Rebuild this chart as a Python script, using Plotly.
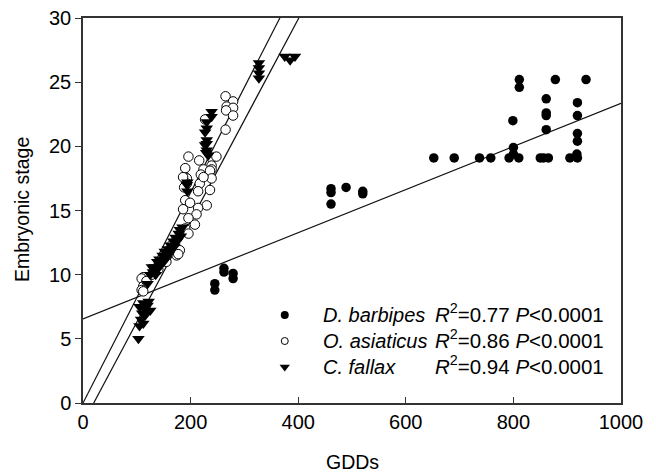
import plotly.graph_objects as go
import numpy as np

# D. barbipes (filled circles)
db_x = [245, 245, 262, 262, 279, 279, 461, 461, 461, 489, 520, 520, 652, 690, 737, 758, 792, 800, 800, 810,
        799, 811, 811, 850, 861, 861, 861, 861, 865, 856, 878, 905, 918, 919, 919, 919, 919, 919, 935]
db_y = [8.8, 9.3, 10.5, 10.2, 10.1, 9.7, 16.7, 16.4, 15.5, 16.8, 16.5, 16.3, 19.1, 19.1, 19.1, 19.1, 19.1, 19.9, 19.4, 19.1,
        22.0, 25.2, 24.6, 19.1, 23.7, 22.6, 22.4, 21.3, 19.1, 19.1, 25.2, 19.1, 19.4, 23.4, 22.4, 21.0, 20.4, 19.1, 25.2]

# O. asiaticus (open circles)
oa_x = [265, 279, 267, 279, 266, 279, 265, 227, 196, 216, 239, 248, 239, 224, 239, 190, 193, 193, 219, 236,
        239, 217, 236, 214, 190, 199, 230, 214, 186, 211, 196, 190, 208, 196, 180, 174, 177, 112, 109, 112,
        109, 112, 165, 155, 128, 140, 118, 190, 188, 224, 186]
oa_y = [23.9, 23.5, 23.1, 23.0, 22.8, 22.4, 21.3, 22.1, 19.2, 18.9, 19.1, 19.2, 18.5, 18.2, 18.2, 17.6, 17.5, 17.1, 17.8, 18.1,
        17.5, 17.1, 16.6, 16.5, 15.8, 15.6, 15.4, 15.2, 15.1, 14.7, 14.4, 13.6, 13.9, 13.2, 11.9, 11.5, 11.6, 9.8, 9.7, 9.1,
        8.8, 8.7, 12.3, 11.0, 10.0, 10.4, 9.5, 18.3, 16.8, 17.6, 17.6]

# C. fallax (filled down-triangles)
cf_x = [103, 105, 108, 112, 110, 105, 115, 115, 118, 120, 122, 125, 112,
        120, 125, 130, 133, 135, 138, 140, 142, 145, 148, 150, 152, 155, 158, 160, 163, 165, 168, 170, 172, 175,
        178, 180, 182, 185, 128, 137,
        194, 194, 193,
        239, 239, 230, 230, 227, 230, 227, 230, 233, 229, 230,
        327, 327, 327, 327,
        375, 385, 394]
cf_y = [5.0, 6.0, 6.5, 6.2, 7.0, 7.5, 7.3, 6.8, 7.0, 7.6, 7.9, 7.2, 7.8,
        9.3, 10.0, 10.2, 10.6, 10.0, 11.0, 10.5, 11.2, 10.8, 11.5, 11.0, 11.8, 11.3, 12.0, 11.6, 12.3, 12.0, 12.6, 12.2, 12.9, 12.6,
        13.2, 13.5, 13.0, 13.7, 10.6, 10.4,
        17.2, 16.5, 17.0,
        22.7, 22.3, 21.9, 21.4, 21.1, 20.5, 20.1, 19.7, 19.3, 19.5, 20.2,
        26.5, 26.1, 25.7, 25.3,
        27.0, 26.7, 27.0]

# regression lines: D. barbipes, O. asiaticus, C. fallax
line_intercepts = [6.55, 0.0, -1.57]
line_slopes = [0.0168, 0.082, 0.0787]

species = ["D. barbipes", "O. asiaticus", "C. fallax"]
r2_labels = ["0.77", "0.86", "0.94"]
p_label = "0.0001"

FONT = "Liberation Sans, Arial, sans-serif"

fig = go.Figure()

# regression lines
xl = np.array([0, 1000])
for a, b in zip(line_intercepts, line_slopes):
    fig.add_trace(go.Scatter(x=xl, y=a + b * xl, mode="lines",
                             line=dict(color="#111111", width=1.2), showlegend=False, hoverinfo="skip"))

fig.add_trace(go.Scatter(x=oa_x, y=oa_y, mode="markers", showlegend=False,
                         marker=dict(symbol="circle", size=9.5, color="white",
                                     line=dict(color="black", width=1))))
fig.add_trace(go.Scatter(x=cf_x, y=cf_y, mode="markers", showlegend=False,
                         marker=dict(symbol="triangle-down", size=11, color="black",
                                     line=dict(color="black", width=0))))
fig.add_trace(go.Scatter(x=db_x, y=db_y, mode="markers", showlegend=False,
                         marker=dict(symbol="circle", size=9.5, color="black",
                                     line=dict(color="black", width=0))))

# custom legend
leg_y = [6.86, 4.83, 2.8]
leg_mx = 375
fig.add_trace(go.Scatter(x=[leg_mx], y=[leg_y[0]], mode="markers", showlegend=False,
                         marker=dict(symbol="circle", size=8, color="black")))
fig.add_trace(go.Scatter(x=[leg_mx], y=[leg_y[1]], mode="markers", showlegend=False,
                         marker=dict(symbol="circle", size=7, color="white", line=dict(color="black", width=1))))
fig.add_trace(go.Scatter(x=[leg_mx], y=[leg_y[2]], mode="markers", showlegend=False,
                         marker=dict(symbol="triangle-down", size=9, color="black")))

for sp, r2, yy in zip(species, r2_labels, leg_y):
    fig.add_annotation(x=442, y=yy, xref="x", yref="y", xanchor="left", yanchor="middle",
                       text="<i>%s</i>" % sp, showarrow=False, font=dict(family=FONT, size=20, color="black"))
    fig.add_annotation(x=650, y=yy + 0.15, xref="x", yref="y", xanchor="left", yanchor="middle",
                       text="<i>R</i><sup>2</sup>=%s <i>P</i>&lt;%s" % (r2, p_label), showarrow=False,
                       font=dict(family=FONT, size=20.5, color="black"))

# axis titles
fig.add_annotation(x=352, y=476 - 462, xref="paper", yref="paper", text="GDDs", showarrow=False,
                   font=dict(family=FONT, size=19.5, color="black"), xanchor="center", yanchor="middle")
fig.add_annotation(x=22, y=476 - 210, xref="paper", yref="paper", text="Embryonic stage", showarrow=False,
                   textangle=-90, font=dict(family=FONT, size=19.5, color="black"), xanchor="center", yanchor="middle")

axis_common = dict(showgrid=False, zeroline=False, showline=True, linecolor="#333333", linewidth=1.5,
                   mirror=True, ticklen=6, tickwidth=1.2, tickcolor="#333333", automargin=False,
                   tickfont=dict(family=FONT, size=20, color="black"))

fig.update_xaxes(range=[0, 1000], tickvals=[0, 200, 400, 600, 800, 1000], ticks="inside", **axis_common)
fig.update_yaxes(range=[0, 30], tickvals=[0, 5, 10, 15, 20, 25, 30], ticks="outside", **axis_common)

fig.update_layout(width=656, height=476, margin=dict(l=83, r=35, t=18, b=73),
                  plot_bgcolor="white", paper_bgcolor="white", showlegend=False)

# convert paper coordinates of the axis-title annotations from pixels
W, H = 656, 476
L, R, T, B = 83, 35, 18, 73
pw, ph = W - L - R, H - T - B
for ann in fig.layout.annotations:
    if ann.xref == "paper":
        ann.x = (ann.x - L) / pw
        ann.y = (ann.y - B) / ph

fig.write_html("out.html")
